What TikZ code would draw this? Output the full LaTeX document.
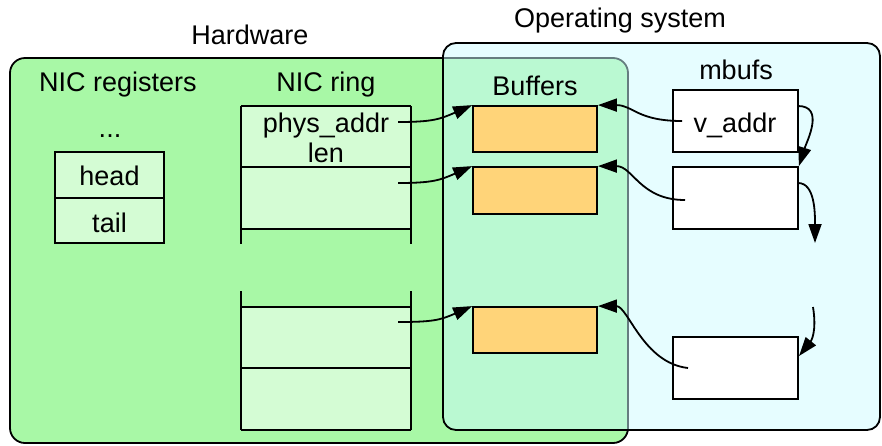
\documentclass[tikz,border=0pt]{standalone}
\usepackage{fontspec}
\setmainfont{Liberation Sans}
\usetikzlibrary{arrows.meta}
\definecolor{hwgreen}{RGB}{168,248,166}
\definecolor{cellgreen}{RGB}{212,252,212}
\definecolor{osblue}{RGB}{205,251,255}
\definecolor{buforange}{RGB}{255,212,121}
\begin{document}
\begin{tikzpicture}[x=1pt,y=-1pt,line width=1.8pt,
  font=\fontsize{27}{31}\selectfont,
  lbl/.style={anchor=base,inner sep=0pt},
  cell/.style={draw=black,fill=cellgreen,inner sep=0pt,minimum width=#1},
  cell/.default=170pt,
  bufbox/.style={draw=black,fill=buforange,inner sep=0pt,minimum width=124pt,minimum height=46pt},
  mbufbox/.style={draw=black,fill=white,inner sep=0pt,minimum width=125pt,minimum height=62pt},
  arr/.style={-{Triangle[length=19pt,width=13pt]},line width=1.8pt}]
\useasboundingbox (0,0) rectangle (882,445);
% regions
\node[draw=black,fill=hwgreen,rounded corners=15pt,inner sep=0pt,minimum width=618pt,minimum height=385pt] (hw) at (319,250.5) {};
\node[draw=black,fill=osblue,fill opacity=0.5,rounded corners=13pt,inner sep=0pt,minimum width=437pt,minimum height=387pt] (os) at (661.5,236.5) {};
\node[lbl] (hwlbl) at (250,44) {Hardware};
\node[lbl] (oslbl) at (620,27) {Operating system};
% NIC registers
\node[lbl] (reglbl) at (118,91) {NIC registers};
\node[lbl] (dots) at (110,137) {...};
\node[cell=109pt,minimum height=46pt] (head) at (109.5,175) {};
\node[cell=109pt,minimum height=45pt] (tail) at (109.5,220.5) {};
\node[lbl] (headt) at (109.5,185) {head};
\node[lbl] (tailt) at (109.5,232) {tail};
% NIC ring
\node[lbl] (ringlbl) at (326,91) {NIC ring};
\node[cell,draw=none,minimum height=123pt] (rtop) at (326,167.5) {};
\node[cell,draw=none,minimum height=123pt] (rbot) at (326,368.5) {};
\coordinate (tl) at (241,106);
\coordinate (tr) at (411,106);
\coordinate (ml) at (241,167);
\coordinate (mr) at (411,167);
\coordinate (bl) at (241,229);
\coordinate (br) at (411,229);
\coordinate (el) at (241,244);
\coordinate (er) at (411,244);
\coordinate (fl) at (241,291);
\coordinate (fr) at (411,291);
\coordinate (gl) at (241,307);
\coordinate (gr) at (411,307);
\coordinate (hl) at (241,368);
\coordinate (hr) at (411,368);
\coordinate (il) at (241,430);
\coordinate (ir) at (411,430);
\draw (tl) -- (tr);
\draw (ml) -- (mr);
\draw (bl) -- (br);
\draw (tl) -- (el);
\draw (tr) -- (er);
\draw (fl) -- (il);
\draw (fr) -- (ir);
\draw (gl) -- (gr);
\draw (hl) -- (hr);
\draw (il) -- (ir);
\node[lbl] (phys) at (326,132) {phys\_addr};
\node[lbl] (len) at (326,162) {len};
% Buffers
\node[lbl] (buflbl) at (535,95) {Buffers};
\node[bufbox] (b1) at (535,129) {};
\node[bufbox,minimum height=47pt] (b2) at (535,190.5) {};
\node[bufbox] (b3) at (535,330) {};
% mbufs
\node[lbl] (mblbl) at (736,79) {mbufs};
\node[mbufbox] (m1) at (735.5,121) {};
\node[mbufbox] (m2) at (735.5,198) {};
\node[mbufbox] (m3) at (735.5,368) {};
\node[lbl] (vaddr) at (735,132) {v\_addr};
% connector free ends
\coordinate (s1) at (398,122);
\coordinate (s2) at (398,183);
\coordinate (s3) at (398,322);
\coordinate (s4) at (682,121);
\coordinate (s5) at (685,200);
\coordinate (s6) at (688,368);
\coordinate (n1) at (798,106);
\coordinate (n2) at (798,183);
\coordinate (n3) at (813,307);
\coordinate (n2end) at (815,243);
\coordinate (m3in) at (799,356);
% ring -> buffers
\draw[arr] (s1) .. controls +(35,0) and +(-32,14) .. (b1.north west);
\draw[arr] (s2) .. controls +(35,0) and +(-32,14) .. (b2.north west);
\draw[arr] (s3) .. controls +(35,0) and +(-32,14) .. (b3.north west);
% mbufs -> buffers
\draw[arr] (s4) .. controls +(-45,0) and +(35,0) .. (b1.north east);
\draw[arr] (s5) .. controls +(-45,0) and +(35,0) .. (b2.north east);
\draw[arr] (s6) .. controls +(-45,-5) and +(30,0) .. (b3.north east);
% mbuf chain
\draw[arr] (n1) .. controls +(27,0) and +(8,-25) .. (m2.north east);
\draw[arr] (n2) .. controls +(17,0) and +(0,-30) .. (n2end);
\draw[arr] (n3) .. controls +(4,25) and +(12,-15) .. (m3in);
\end{tikzpicture}
\end{document}
